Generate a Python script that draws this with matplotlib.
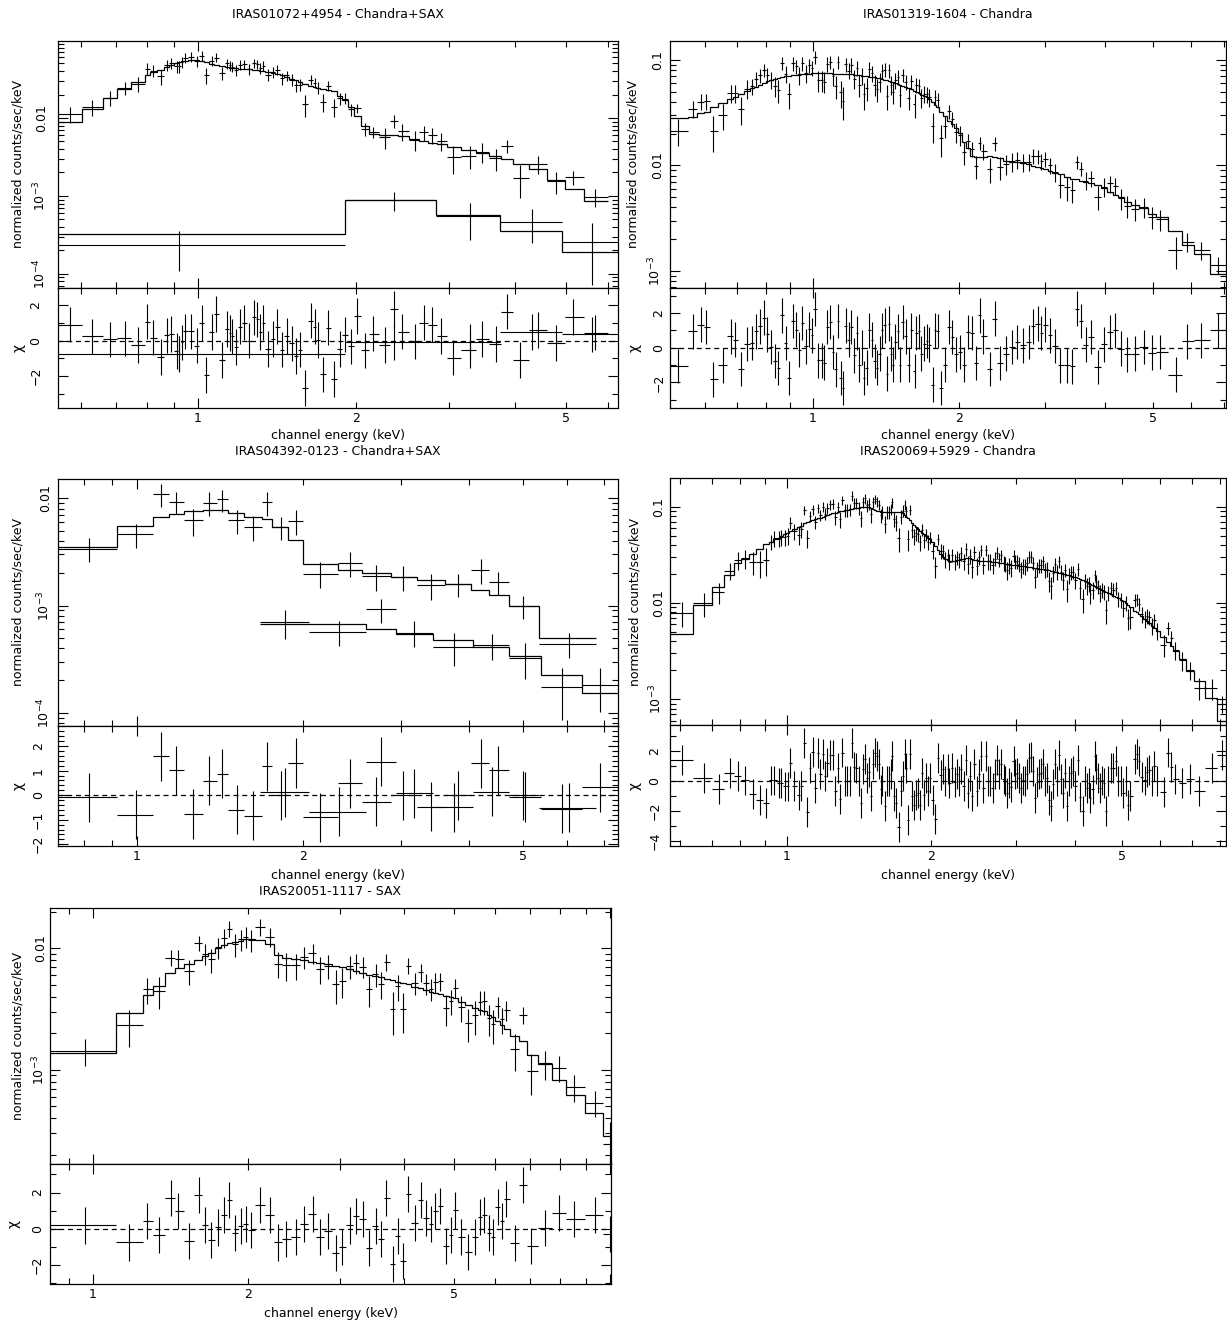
import numpy as np
import matplotlib
matplotlib.use("Agg")
import matplotlib.pyplot as plt
from matplotlib.ticker import (FixedLocator, FuncFormatter, MultipleLocator,
                               LogLocator, NullFormatter)

plt.rcParams.update({
    "font.family": ["DejaVu Sans"],
    "font.size": 9,
    "mathtext.default": "regular",
    "axes.linewidth": 0.9,
})

# ====================== DATA ======================
# ---- Panel 1: IRAS01072+4954  (Chandra + SAX) ----
P1_E = [0.573,0.631,0.682,0.727,0.770,0.800,0.822,0.851,0.873,0.889,
        0.912,0.923,0.933,0.944,0.969,0.995,1.017,1.039,1.063,1.085,
        1.114,1.137,1.153,1.163,1.184,1.204,1.225,1.253,1.280,1.298,
        1.314,1.330,1.360,1.391,1.415,1.445,1.476,1.510,1.536,1.563,
        1.599,1.638,1.667,1.690,1.729,1.768,1.812,1.859,1.902,1.953,
        2.004,2.075,2.156,2.271,2.360,2.443,2.587,2.684,2.789,2.897,
        3.052,3.289,3.465,3.681,3.858,4.087,4.435,4.795,5.168,5.675]
P1_MODEL = [0.00879,0.01306,0.01794,0.0237,0.0289,0.0353,0.039,0.041,0.0452,0.0475,
            0.0509,0.0525,0.0535,0.0546,0.0562,0.0562,0.054,0.052,0.0499,0.048,
            0.0461,0.0452,0.0443,0.0439,0.0434,0.043,0.0425,0.0421,0.0413,0.041,
            0.0405,0.0401,0.039,0.0379,0.0371,0.0353,0.0336,0.0319,0.0304,0.0289,
            0.0275,0.0259,0.0249,0.0244,0.0237,0.023,0.0221,0.0194,0.0168,0.01374,
            0.0107,0.00796,0.00621,0.00608,0.00608,0.00591,0.00535,0.00509,0.00484,0.0047,
            0.00426,0.00385,0.0036,0.00326,0.00295,0.00254,0.00219,0.0016,0.00124,0.00085]
P1_CHI = [0.9,0.25,0.08,0.13,-0.23,1.08,0.17,-0.92,0.3,0.38,
          -0.57,-0.76,-0.1,0.53,0.53,-0.27,1.0,-1.94,0.5,1.5,
          -1.1,0.67,0.44,0.25,-0.34,0.8,1.02,0.0,1.32,1.2,
          0.48,1.02,-0.48,0.1,0.8,-0.5,0.28,-0.15,-0.86,-0.5,
          -2.66,1.13,0.8,0.04,-1.9,0.74,-2.15,-0.48,0.34,-0.32,
          1.4,-0.55,0.4,-0.23,1.8,0.51,-0.04,1.02,0.9,0.28,
          -0.95,-0.52,0.1,-0.19,1.64,-1.1,0.6,-0.13,1.33,0.46]
P1_RELERR = ([0.30,0.25,0.22,0.20,0.20,0.20,0.18,0.18,0.17,0.17]
             + [0.16]*30 + [0.17]*13 + [0.28]*9 + [0.30]*8)
P1_EDGE_FIX = [(0, 0.53), (1, 0.603), (2, 0.661), (3, 0.703), (4, 0.747), (5, 0.793)]
P1_EDGE_HI = 6.01
P1_SAX_E = [0.923, 2.36, 3.289, 4.32, 5.61]
P1_SAX_EDGES = [0.50, 1.902, 2.837, 3.746, 4.92, 6.28]
P1_SAX_Y = [2.35e-4, 8.79e-4, 5.46e-4, 4.61e-4, 2.59e-4]
P1_SAX_ERR = [1.25e-4, 2.4e-4, 2.7e-4, 2.1e-4, 1.87e-4]
P1_SAX_MODEL = [3.26e-4, 8.97e-4, 5.62e-4, 3.6e-4, 1.92e-4]

# ---- Panel 2: IRAS01319-1604  (Chandra) ----
P2_E = [0.529,0.567,0.589,0.604,0.624,0.654,0.678,0.691,0.712,0.734,
        0.750,0.764,0.778,0.795,0.807,0.822,0.837,0.849,0.865,0.881,
        0.894,0.912,0.926,0.938,0.952,0.969,0.984,0.996,1.011,1.028,
        1.043,1.057,1.072,1.086,1.102,1.116,1.128,1.143,1.154,1.171,
        1.186,1.201,1.219,1.235,1.248,1.264,1.276,1.292,1.307,1.324,
        1.341,1.356,1.373,1.391,1.406,1.419,1.433,1.451,1.464,1.478,
        1.500,1.513,1.533,1.553,1.576,1.596,1.620,1.635,1.656,1.674,
        1.696,1.718,1.737,1.766,1.785,1.808,1.835,1.869,1.910,1.938,
        1.970,2.006,2.048,2.086,2.125,2.164,2.204,2.244,2.315,2.371,
        2.424,2.501,2.570,2.633,2.706,2.782,2.833,2.901,2.955,3.010,
        3.076,3.145,3.233,3.342,3.422,3.498,3.563,3.649,3.730,3.855,
        3.977,4.088,4.187,4.304,4.440,4.605,4.794,4.983,5.188,5.583,
        5.897,6.290,6.831]
P2_MODEL = [0.0279,0.0286,0.0312,0.0323,0.0356,0.0388,0.0424,0.0443,0.0476,0.0512,
            0.0538,0.0558,0.0579,0.061,0.0627,0.0646,0.0665,0.0675,0.0685,0.07,
            0.071,0.0721,0.0726,0.0731,0.0737,0.0742,0.0742,0.0747,0.0747,0.0747,
            0.0747,0.0747,0.0747,0.0747,0.0742,0.0742,0.0742,0.0737,0.0737,0.0737,
            0.0731,0.0731,0.0726,0.0721,0.0715,0.071,0.0705,0.07,0.0695,0.069,
            0.0685,0.068,0.067,0.066,0.065,0.0641,0.0632,0.0623,0.0614,0.06,
            0.0587,0.0575,0.0562,0.055,0.0538,0.0527,0.0512,0.0497,0.0482,0.0469,
            0.0455,0.0443,0.043,0.0402,0.0374,0.0356,0.0323,0.0294,0.0265,0.0247,
            0.0225,0.0204,0.0168,0.0145,0.01227,0.0119,0.0119,0.0121,0.01227,0.0121,
            0.01166,0.01107,0.01083,0.01068,0.01045,0.01022,0.00993,0.00957,0.00937,0.00916,
            0.00883,0.00852,0.00828,0.0078,0.00747,0.00736,0.00715,0.00695,0.00675,0.0065,
            0.00605,0.00562,0.00523,0.00497,0.00452,0.0042,0.00399,0.0035,0.00326,0.00238,
            0.00175,0.00144,0.00094]
P2_CHI = [-1.06,0.94,1.33,1.2,-1.82,-1.02,0.66,0.46,-1.24,0.21,
          0.27,0.94,1.23,1.73,0.77,0.04,-0.77,-1.18,1.87,0.27,
          -1.74,1.54,1.04,-0.12,1.42,0.08,1.06,0.71,2.24,-0.73,
          -0.73,-0.87,1.2,1.48,-0.25,-1.25,1.54,-1.74,-2.32,1.27,
          0.46,1.2,-0.44,0.85,-0.98,0.0,-1.74,-1.16,1.0,0.46,
          -0.77,-1.16,-0.35,1.0,1.29,-1.5,1.39,-0.35,-0.98,0.35,
          0.94,-0.98,1.48,0.66,-0.98,1.0,-1.35,0.85,0.94,-0.35,
          0.23,0.39,0.17,-2.13,1.0,0.97,-2.32,-0.98,1.2,0.62,
          -0.38,-0.25,-0.98,0.91,0.85,-0.88,1.87,0.66,-1.22,1.68,
          -0.88,-0.35,0.04,0.33,0.14,0.33,1.23,1.39,0.85,1.33,
          0.71,0.1,-1.02,-1.02,-1.08,2.26,1.54,0.17,0.62,-1.12,
          0.19,0.91,1.0,-0.06,-0.38,-0.35,0.04,-0.29,-0.25,-1.55,
          0.37,0.42,1.0]
P2_RELERR = [0.22]*10 + [0.19]*70 + [0.20]*30 + [0.22]*13
P2_EDGE_FIX = [(0, 0.50), (1, 0.554)]
P2_EDGE_HI = 7.12

# ---- Panel 3: IRAS04392-0123  (Chandra + SAX) ----
P3_CH_E = [0.820,0.997,1.105,1.176,1.265,1.352,1.428,1.514,1.623,1.720,1.819,
           1.938,2.147,2.428,2.713,3.037,3.410,3.817,4.196,4.498,5.010,6.063]
P3_CH_EDGES = [0.718,0.920,1.069,1.142,1.214,1.319,1.393,1.464,1.565,1.686,1.757,
               1.877,1.996,2.310,2.559,2.889,3.218,3.614,4.026,4.337,4.711,5.336,6.784]
P3_CH_Y = [0.00341,0.00461,0.01098,0.00931,0.00627,0.00911,0.00979,0.00627,0.00543,
           0.00918,0.00543,0.00618,0.00199,0.0025,0.00188,0.00185,0.00155,0.00158,
           0.00214,0.00166,0.000993,0.000441]
P3_CH_ERR = [0.00087,0.00117,0.00272,0.00215,0.00176,0.00228,0.00232,0.00162,0.00146,
             0.00228,0.0013,0.0016,0.000535,0.00067,0.000515,0.00047,0.00043,0.00039,
             0.00056,0.000405,0.000247,0.000114]
P3_CH_MODEL = [0.00349,0.00555,0.00665,0.00714,0.00762,0.00778,0.00778,0.00724,0.00665,
               0.0065,0.00543,0.00408,0.00247,0.00217,0.00202,0.00185,0.00175,0.00158,
               0.00141,0.00125,0.000993,0.000499]
P3_SAX_E = [1.856,2.321,2.763,3.180,3.754,4.387,5.050,5.893,6.898]
P3_SAX_EDGES = [1.672,2.050,2.603,2.938,3.439,4.058,4.711,5.397,6.402,7.432]
P3_SAX_Y = [0.000704,0.000567,0.000924,0.000559,0.000411,0.000426,0.000327,0.000174,0.00018]
P3_SAX_ERR = [0.000214,0.000152,0.000237,0.000152,0.00014,0.000113,0.000121,8.9e-5,7.9e-5]
P3_SAX_MODEL = [0.000679,0.000669,0.000601,0.000547,0.000481,0.000411,0.000336,0.000223,0.000154]

# ---- Panel 4: IRAS20069+5929  (Chandra) ----
P4_E = [0.606,0.673,0.723,0.760,0.790,0.819,0.849,0.878,0.906,0.928,
        0.943,0.962,0.974,0.990,1.006,1.017,1.038,1.059,1.070,1.089,
        1.103,1.119,1.134,1.147,1.161,1.176,1.188,1.203,1.216,1.232,
        1.248,1.264,1.279,1.293,1.307,1.324,1.339,1.352,1.365,1.380,
        1.398,1.412,1.426,1.439,1.453,1.469,1.483,1.498,1.514,1.529,
        1.544,1.556,1.571,1.584,1.600,1.615,1.631,1.647,1.660,1.675,
        1.692,1.711,1.727,1.744,1.761,1.772,1.789,1.806,1.824,1.841,
        1.859,1.874,1.892,1.913,1.932,1.950,1.969,1.988,2.014,2.040,
        2.067,2.093,2.117,2.140,2.168,2.182,2.210,2.239,2.264,2.289,
        2.311,2.337,2.363,2.386,2.413,2.440,2.463,2.491,2.519,2.543,
        2.572,2.601,2.626,2.656,2.686,2.712,2.742,2.773,2.800,2.832,
        2.855,2.882,2.910,2.938,2.971,2.995,3.024,3.053,3.083,3.107,
        3.142,3.172,3.203,3.234,3.266,3.297,3.329,3.361,3.393,3.426,
        3.459,3.493,3.526,3.561,3.595,3.630,3.664,3.700,3.736,3.771,
        3.807,3.844,3.882,3.918,3.956,3.995,4.046,4.092,4.138,4.178,
        4.218,4.259,4.299,4.341,4.383,4.424,4.467,4.510,4.553,4.597,
        4.642,4.686,4.739,4.800,4.854,4.917,4.981,5.037,5.093,5.143,
        5.209,5.327,5.379,5.431,5.501,5.572,5.644,5.707,5.771,5.845,
        5.921,6.105,6.233,6.334,6.457,6.667,6.939,7.223,7.700,8.077]
P4_MODEL = [0.00477,0.00942,0.01463,0.01936,0.026,0.0289,0.0326,0.0367,0.0414,0.0431,
            0.0467,0.0479,0.0494,0.0519,0.0535,0.0562,0.0594,0.0618,0.0628,0.067,
            0.0687,0.0709,0.0726,0.0744,0.0755,0.0767,0.078,0.0799,0.0818,0.0838,
            0.0852,0.0866,0.0887,0.0901,0.0908,0.0923,0.093,0.0938,0.0945,0.096,
            0.0968,0.0976,0.0984,0.0992,0.1,0.1,0.0992,0.0976,0.0953,0.093,
            0.0908,0.0894,0.0887,0.0887,0.0887,0.0887,0.0887,0.0887,0.0887,0.0887,
            0.0887,0.0887,0.088,0.0866,0.0818,0.0787,0.0755,0.0726,0.067,0.0644,
            0.0618,0.0594,0.0562,0.0535,0.0519,0.0498,0.0479,0.0464,0.0431,0.0389,
            0.0359,0.0326,0.0301,0.0284,0.0278,0.0275,0.0273,0.0275,0.0278,0.0282,
            0.0287,0.0289,0.0291,0.0294,0.0291,0.0287,0.0282,0.0278,0.0275,0.0273,
            0.0273,0.0273,0.0271,0.0271,0.0269,0.0267,0.0265,0.0262,0.026,0.0258,
            0.0256,0.0254,0.0252,0.025,0.0248,0.0248,0.0246,0.0244,0.0244,0.0242,
            0.024,0.0238,0.0237,0.0235,0.0233,0.0231,0.0229,0.0227,0.0225,0.0224,
            0.0222,0.022,0.0218,0.0215,0.0213,0.0211,0.021,0.0206,0.0205,0.0201,
            0.02,0.0197,0.0194,0.0191,0.0187,0.0185,0.018,0.0176,0.0172,0.0169,
            0.0165,0.0161,0.0157,0.0153,0.015,0.01463,0.0143,0.0139,0.0136,0.0133,
            0.013,0.0127,0.01227,0.01188,0.0115,0.01114,0.01079,0.01045,0.01004,0.00964,
            0.00905,0.00835,0.00802,0.0077,0.00729,0.00684,0.00646,0.00616,0.00582,0.00551,
            0.00516,0.0044,0.0039,0.0036,0.00319,0.00262,0.00198,0.00155,0.00104,0.000594]
P4_CHI = [1.39,0.18,-0.52,0.56,0.31,0.04,-0.85,-1.28,-1.44,0.04,
          0.04,-0.13,-0.13,-0.36,-0.36,1.19,-0.34,-0.94,-0.34,2.56,
          -2.07,0.9,1.96,-0.45,1.87,0.45,1.8,0.34,1.24,1.75,
          1.75,-0.67,0.85,-1.21,1.91,0.0,0.0,0.0,2.52,0.97,
          0.9,0.0,-1.48,0.79,1.46,0.22,0.58,-0.99,1.17,1.91,
          1.69,1.17,-0.56,0.0,-1.69,0.0,0.0,0.45,1.69,-1.01,
          -1.46,-3.1,-0.67,0.34,1.8,0.9,-2.63,1.8,-1.01,-1.57,
          -0.9,-0.79,-1.57,0.56,-0.9,0.22,-0.67,0.18,-1.24,-2.52,
          1.57,0.38,0.79,0.0,0.79,-0.11,0.9,-0.07,0.45,0.0,
          0.79,-0.34,1.39,-0.79,0.34,-1.01,1.12,-0.67,0.45,1.69,
          -0.45,1.69,0.0,0.0,-0.45,0.45,1.39,0.45,1.12,0.11,
          0.0,-0.79,-0.11,-0.4,1.35,0.45,0.56,0.22,-0.45,0.04,
          0.0,0.45,1.57,1.62,0.67,-1.12,-0.04,0.45,0.56,1.17,
          0.0,0.18,-1.24,-1.69,-0.22,1.12,0.0,1.73,0.11,-0.79,
          0.56,-1.64,0.0,0.52,0.67,-0.34,1.39,-1.06,-2.02,0.0,
          -0.45,-0.11,-1.12,-0.56,1.69,0.79,0.22,-0.45,0.04,-0.11,
          -1.98,0.0,0.9,0.9,1.35,0.0,0.0,-0.79,0.0,-1.57,
          -1.01,1.46,1.8,1.35,0.27,0.04,0.63,0.74,0.0,1.01,
          0.0,-0.74,1.91,0.97,0.11,-0.11,0.11,-0.67,0.85,1.73]
P4_RELERR = ([0.48, 0.30] + [0.22]*7 + [0.18]*10 + [0.15]*61 + [0.18]*90
             + [0.20]*11 + [0.22]*7 + [0.30]*2)
P4_EDGE_FIX = [(0, 0.55)]
P4_EDGE_HI = 8.5

# ---- Panel 5: IRAS20051-1117  (SAX) ----
P5_E = [0.965,1.177,1.274,1.344,1.417,1.463,1.534,1.604,1.652,1.696,
        1.746,1.792,1.837,1.887,1.931,1.975,2.025,2.102,2.204,2.285,
        2.366,2.473,2.562,2.664,2.750,2.849,2.951,3.031,3.140,3.225,
        3.323,3.419,3.523,3.604,3.695,3.801,3.882,3.986,4.072,4.189,
        4.301,4.409,4.511,4.592,4.699,4.817,4.929,5.017,5.152,5.318,
        5.481,5.608,5.708,5.831,5.935,6.062,6.171,6.281,6.543,6.776,
        7.046,7.467,7.946,8.530,9.350,10.0]
P5_MODEL = [0.00137,0.00292,0.00413,0.0049,0.00623,0.00685,0.00743,0.00802,0.00865,0.00921,
            0.01,0.01065,0.011,0.01134,0.01156,0.01186,0.01186,0.01178,0.01079,0.00882,
            0.00828,0.00812,0.00802,0.00777,0.00753,0.00743,0.00716,0.00698,0.00681,0.00655,
            0.00631,0.00604,0.00592,0.00578,0.00563,0.00549,0.00532,0.00516,0.00506,0.00484,
            0.00469,0.00454,0.0044,0.00432,0.00421,0.00408,0.00396,0.00386,0.00364,0.00342,
            0.00325,0.00311,0.00302,0.00283,0.00271,0.0025,0.00234,0.00216,0.00188,0.00171,
            0.00133,0.00112,0.000828,0.000623,0.00044,0.000283]
P5_CHI = [0.18,-0.76,0.44,-0.33,1.7,1.0,-0.66,1.88,0.22,-0.61,
          0.07,0.74,1.6,-0.24,0.13,0.26,-0.06,1.33,0.77,-0.76,
          -0.57,-0.48,0.26,0.81,-0.48,-0.15,-1.35,-1.03,0.18,0.68,
          0.53,-1.07,0.17,-0.55,1.7,-1.95,-0.39,-1.77,1.92,0.31,
          1.6,0.59,0.26,1.0,1.24,-0.98,-0.33,1.01,-0.48,-1.31,
          -0.48,0.63,0.77,-0.22,-0.48,1.22,0.44,1.62,-0.79,2.43,
          -0.98,0.04,0.87,0.55,0.74,-0.3]
P5_RELERR = [0.27]*4 + [0.20]*16 + [0.22]*30 + [0.27]*12 + [0.30]*3 + [0.45]
P5_EDGE_FIX = [(0, 0.80), (1, 1.110), (2, 1.252)]
P5_EDGE_HI = 10.3

TITLES = ["IRAS01072+4954 - Chandra+SAX", "IRAS01319-1604 - Chandra",
          "IRAS04392-0123 - Chandra+SAX", "IRAS20069+5929 - Chandra",
          "IRAS20051-1117 - SAX"]
XLABEL = "channel energy (keV)"
YLABEL = "normalized counts/sec/keV"
RLABEL = "\u03c7"

# ====================== PLOTTING ======================
W, H = 1227, 1324
fig = plt.figure(figsize=(W / 100, H / 100), dpi=100)
LW = 0.8


def make_axes(l, r, top, split, bot):
    axm = fig.add_axes([l / W, 1 - split / H, (r - l) / W, (split - top) / H])
    axr = fig.add_axes([l / W, 1 - bot / H, (r - l) / W, (bot - split) / H])
    return axm, axr


def edges_from(E, lo, hi, fixes=()):
    E = np.asarray(E, float)
    ed = np.concatenate([[lo], np.sqrt(E[:-1] * E[1:]), [hi]])
    for i, v in fixes:
        ed[i] = v
    return ed


def draw_set(axm, axr, E, edges, y, err, model):
    E = np.asarray(E, float); edges = np.asarray(edges, float)
    y = np.asarray(y, float); err = np.asarray(err, float)
    model = np.asarray(model, float)
    xerr = [E - edges[:-1], edges[1:] - E]
    kw = dict(fmt="none", ecolor="black", elinewidth=LW, capsize=0)
    axm.errorbar(E, y, xerr=xerr, yerr=err, **kw)
    axm.stairs(model, edges, baseline=None, color="black", lw=0.9)
    axr.errorbar(E, (y - model) / err, xerr=xerr, yerr=np.ones_like(E), **kw)


def draw_rel(axm, axr, E, model, chi, relerr, lo, hi, fixes):
    model = np.asarray(model, float)
    sig = model * np.asarray(relerr, float)
    y = model + np.asarray(chi, float) * sig
    draw_set(axm, axr, E, edges_from(E, lo, hi, fixes), y, sig, model)


def main_fmt(v, pos):
    e = int(round(np.log10(v)))
    if e >= -2:
        return f"{v:g}"
    return rf"$10^{{{e}}}$"


def xmaj_fmt(v, pos):
    return "1" if abs(v - 1) < 1e-6 else ""


def xmin_fmt(v, pos):
    if v > 1.5 and int(round(v)) in (2, 5):
        return str(int(round(v)))
    return ""


def style(axm, axr, xlim, ylm, ylr, rmaj, rmin, mpad, rpad):
    for ax in (axm, axr):
        ax.set_xscale("log")
        ax.set_xlim(*xlim)
        ax.xaxis.set_major_locator(FixedLocator([1, 10]))
        ax.xaxis.set_minor_locator(FixedLocator([0.5, 0.6, 0.7, 0.8, 0.9,
                                                 2, 3, 4, 5, 6, 7, 8, 9]))
        ax.tick_params(which="both", direction="in", top=True, right=True,
                       width=0.8, labelsize=9)
        ax.tick_params(which="major", length=7)
        ax.tick_params(which="minor", length=4)
    axm.tick_params(axis="x", which="both", labelbottom=False)
    axr.xaxis.set_major_formatter(FuncFormatter(xmaj_fmt))
    axr.xaxis.set_minor_formatter(FuncFormatter(xmin_fmt))
    axr.tick_params(axis="x", which="both", pad=3)
    axm.set_yscale("log")
    axm.set_ylim(*ylm)
    axm.yaxis.set_major_locator(LogLocator(base=10, numticks=20))
    axm.yaxis.set_minor_locator(LogLocator(base=10, subs=np.arange(2, 10), numticks=20))
    axm.yaxis.set_major_formatter(FuncFormatter(main_fmt))
    axm.yaxis.set_minor_formatter(NullFormatter())
    axr.set_ylim(*ylr)
    axr.yaxis.set_major_locator(MultipleLocator(rmaj))
    axr.yaxis.set_minor_locator(MultipleLocator(rmin))
    axr.axhline(0, color="black", lw=0.9, ls=(0, (4, 3)))
    axm.tick_params(axis="y", which="both", labelrotation=90, pad=mpad)
    axr.tick_params(axis="y", which="both", labelrotation=90, pad=rpad)


def texts(l, r, top, split, bot, t_y, xl_y, yl_x, rl_x, title):
    xc = (l + r) / 2 / W
    fig.text(xc, 1 - t_y / H, title, ha="center", va="center", fontsize=9)
    fig.text(xc, 1 - xl_y / H, XLABEL, ha="center", va="center", fontsize=9)
    fig.text(yl_x / W, 1 - (top + split) / 2 / H, YLABEL, rotation=90,
             ha="center", va="center", fontsize=9)
    fig.text(rl_x / W, 1 - (split + bot) / 2 / H, RLABEL, rotation=90,
             ha="center", va="center", fontsize=10)


# ---- Panel 1 ----
g = (57.6, 618, 40.7, 288, 408)
a1m, a1r = make_axes(*g)
draw_rel(a1m, a1r, P1_E, P1_MODEL, P1_CHI, P1_RELERR, 0.53, P1_EDGE_HI, P1_EDGE_FIX)
draw_set(a1m, a1r, P1_SAX_E, P1_SAX_EDGES, P1_SAX_Y, P1_SAX_ERR, P1_SAX_MODEL)
style(a1m, a1r, (0.542, 6.28), (6.6e-5, 0.098), (-3.79, 2.97), 2, 1, 6.5, 11)
texts(*g, 14, 436, 18, 18.7, TITLES[0])

# ---- Panel 2 ----
g = (669.6, 1226, 40.7, 287.5, 408.3)
a2m, a2r = make_axes(*g)
draw_rel(a2m, a2r, P2_E, P2_MODEL, P2_CHI, P2_RELERR, 0.50, P2_EDGE_HI, P2_EDGE_FIX)
style(a2m, a2r, (0.508, 7.08), (6.95e-4, 0.1526), (-3.5, 3.48), 2, 1, 4.3, 3)
texts(*g, 14, 436, 633.5, 635, TITLES[1])

# ---- Panel 3 ----
g = (57.6, 618, 479, 725.7, 846)
a3m, a3r = make_axes(*g)
draw_set(a3m, a3r, P3_CH_E, P3_CH_EDGES, P3_CH_Y, P3_CH_ERR, P3_CH_MODEL)
draw_set(a3m, a3r, P3_SAX_E, P3_SAX_EDGES, P3_SAX_Y, P3_SAX_ERR, P3_SAX_MODEL)
style(a3m, a3r, (0.718, 7.43), (7.56e-5, 0.0152), (-2.07, 2.83), 1, 0.2, 3.6, 9)
texts(*g, 451.7, 875, 18, 18.7, TITLES[2])

# ---- Panel 4 ----
g = (669.6, 1226, 478.3, 725, 846.3)
a4m, a4r = make_axes(*g)
draw_rel(a4m, a4r, P4_E, P4_MODEL, P4_CHI, P4_RELERR, 0.55, P4_EDGE_HI, P4_EDGE_FIX)
style(a4m, a4r, (0.57, 8.24), (5.4e-4, 0.1975), (-4.36, 3.75), 2, 1, 3.5, 6)
texts(*g, 451.7, 875, 635.5, 634.7, TITLES[3])

# ---- Panel 5 ----
g = (49.7, 611.3, 908.3, 1164, 1284)
a5m, a5r = make_axes(*g)
draw_rel(a5m, a5r, P5_E, P5_MODEL, P5_CHI, P5_RELERR, 0.80, P5_EDGE_HI, P5_EDGE_FIX)
style(a5m, a5r, (0.826, 10.05), (1.68e-4, 0.0213), (-3.06, 3.58), 2, 1, 1.5, 4.3)
texts(*g, 891.7, 1313, 18, 14, TITLES[4])

for ax in fig.axes:
    for lab in ax.get_yticklabels(which="both"):
        lab.set_verticalalignment("center")

fig.savefig("out.png", dpi=100)
